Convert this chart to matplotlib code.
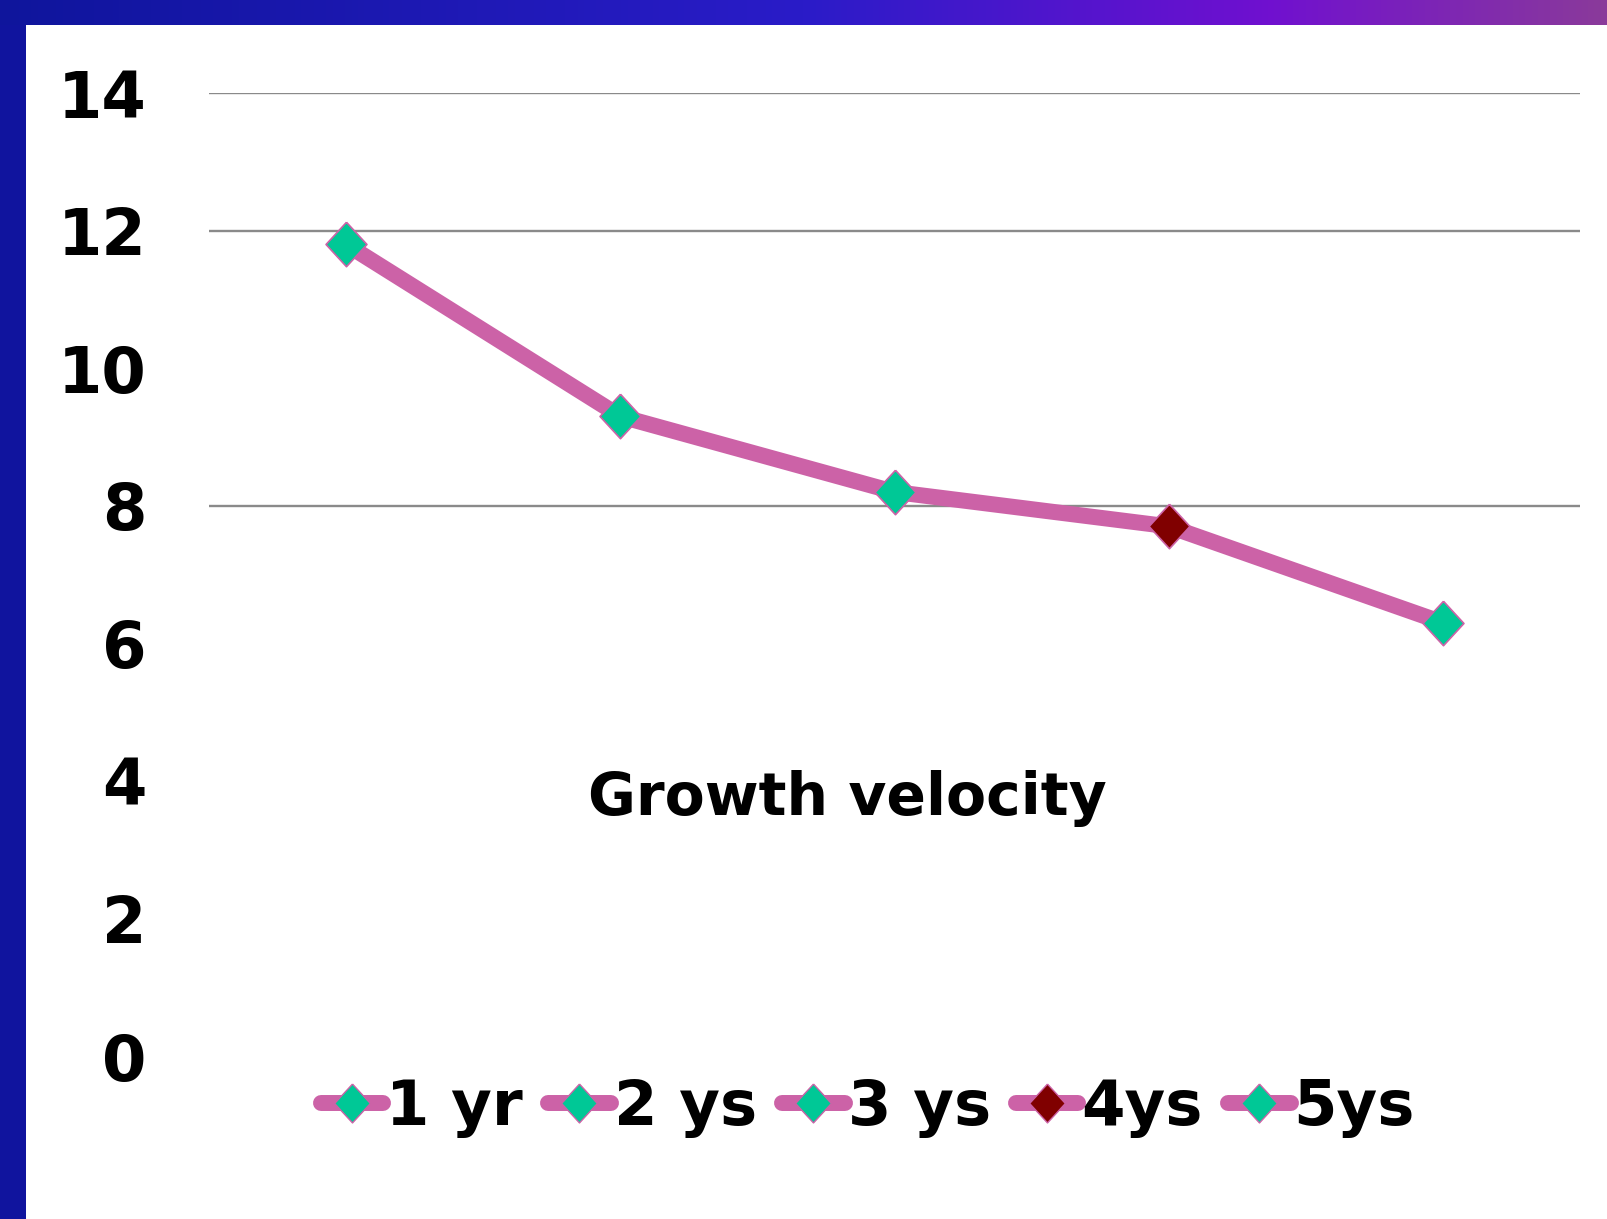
import numpy as np
import matplotlib
matplotlib.use("Agg")
import matplotlib.pyplot as plt
from matplotlib.colors import LinearSegmentedColormap
from matplotlib.lines import Line2D

# Growth velocity by age
categories = ["1 yr", "2 ys", "3 ys", "4ys", "5ys"]
velocity = [11.8, 9.3, 8.2, 7.7, 6.3]
marker_colors = ["#00c896", "#00c896", "#00c896", "#800000", "#00c896"]
y_ticks = [0, 2, 4, 6, 8, 10, 12, 14]
grid_levels = [8, 12, 14]
chart_title = "Growth velocity"

LINE_COLOR = "#cc62a7"
FONT = "DejaVu Sans"
W, H = 1607, 1219

plt.rcParams["font.family"] = FONT
plt.rcParams["font.weight"] = "bold"

fig = plt.figure(figsize=(W / 100, H / 100), dpi=100)
fig.patch.set_facecolor("white")

# slide frame: solid bar on the left, gradient bar across the top
left_bar = fig.add_axes([0, 0, 26 / W, 1])
left_bar.set_axis_off()
left_bar.add_patch(plt.Rectangle((0, 0), 1, 1, color="#10149e", transform=left_bar.transAxes))

top_bar = fig.add_axes([0, 1 - 25 / H, 1, 25 / H])
top_bar.set_axis_off()
grad = LinearSegmentedColormap.from_list(
    "band",
    [(0.0, "#0f159c"), (0.5, "#2a1cc8"), (0.79, "#7010d0"), (1.0, "#8a3a9a")],
)
top_bar.imshow(np.linspace(0, 1, 512)[None, :], aspect="auto", cmap=grad,
               extent=[0, 1, 0, 1])

# main chart
ax = fig.add_axes([209 / W, 1 - 1056 / H, (1580 - 209) / W, (1056 - 93) / H])
ax.set_facecolor("white")
x = np.arange(len(categories))
ax.set_xlim(-0.5, len(categories) - 0.5)
ax.set_ylim(min(y_ticks), max(y_ticks))

for lvl in grid_levels:
    ax.axhline(lvl, color="#8a8a8a", lw=1.7, zorder=1)

# diamond a bit taller than wide
diamond = [(0, 1), (0.92, 0), (0, -1), (-0.92, 0), (0, 1)]

ax.plot(x, velocity, color=LINE_COLOR, lw=11.5, solid_joinstyle="round",
        solid_capstyle="round", zorder=2)
for xi, yi, c in zip(x, velocity, marker_colors):
    ax.plot([xi], [yi], linestyle="none", marker=diamond, markersize=32,
            markerfacecolor=c, markeredgecolor=LINE_COLOR, markeredgewidth=1.2,
            zorder=3)

ax.set_yticks(y_ticks)
ax.set_yticklabels([str(v) for v in y_ticks], fontsize=46, fontweight="bold")
ax.set_xticks([])
ax.tick_params(axis="y", length=0, pad=45)
for s in ax.spines.values():
    s.set_visible(False)

fig.text(847 / W, 1 - 815 / H, chart_title, ha="center", va="baseline",
         fontsize=42, fontweight="bold", color="black")

handles = [
    Line2D([], [], color=LINE_COLOR, lw=11.5, solid_capstyle="round",
           marker=diamond, markersize=28, markerfacecolor=c,
           markeredgecolor=LINE_COLOR, markeredgewidth=1.0)
    for c in marker_colors
]
fig.legend(handles, categories, loc="center",
           bbox_to_anchor=(868 / W, 1 - 1108 / H), ncol=len(categories),
           frameon=False, prop={"family": FONT, "weight": "bold", "size": 45},
           handlelength=1.0, handletextpad=0.05, columnspacing=0.4,
           borderpad=0, borderaxespad=0)

fig.savefig("out.png", dpi=100, facecolor="white")
